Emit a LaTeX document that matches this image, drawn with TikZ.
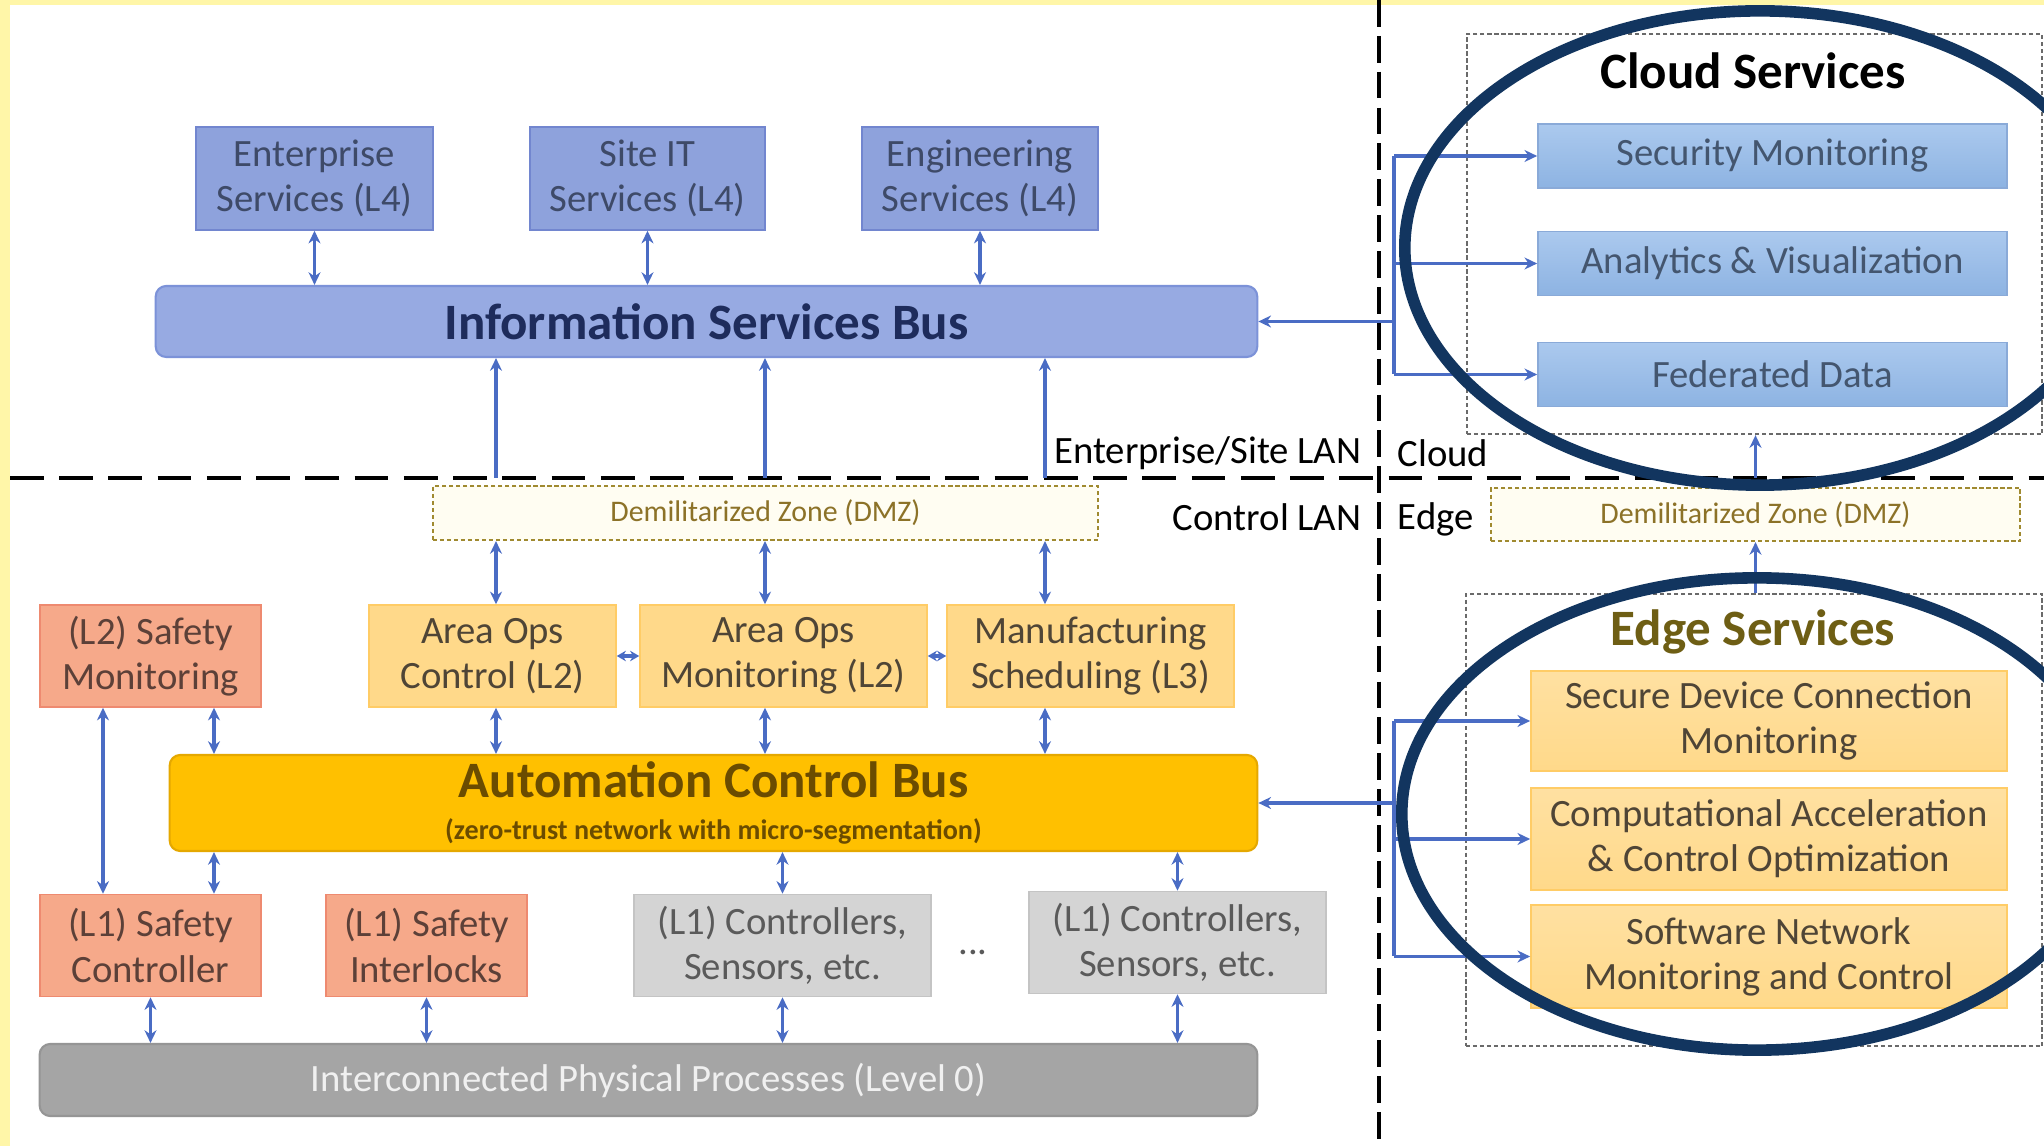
\documentclass[tikz,border=0pt]{standalone}
\usepackage{fontspec}
\setmainfont{Carlito}
\usetikzlibrary{arrows.meta}

\definecolor{band}{HTML}{FFF6A8}
\definecolor{lfourfill}{HTML}{8EA2DC}
\definecolor{lfourline}{HTML}{7286CF}
\definecolor{lfourtext}{HTML}{3E4A68}
\definecolor{isbfill}{HTML}{97AAE2}
\definecolor{isbline}{HTML}{7C92D8}
\definecolor{isbtext}{HTML}{1E2C5C}
\definecolor{cloudtop}{HTML}{ABC9EE}
\definecolor{cloudbot}{HTML}{8DB3E2}
\definecolor{cloudline}{HTML}{8AAAD8}
\definecolor{cloudtext}{HTML}{44566F}
\definecolor{navy}{HTML}{12355F}
\definecolor{opsfill}{HTML}{FFD98A}
\definecolor{opsline}{HTML}{FFCC66}
\definecolor{opstext}{HTML}{4F4536}
\definecolor{safefill}{HTML}{F6A98A}
\definecolor{safeline}{HTML}{EE8A70}
\definecolor{safetext}{HTML}{5C4038}
\definecolor{acbfill}{HTML}{FFC000}
\definecolor{acbline}{HTML}{E5A800}
\definecolor{acbtext}{HTML}{6B4C00}
\definecolor{ctlfill}{HTML}{D4D4D4}
\definecolor{ctlline}{HTML}{C4C4C4}
\definecolor{ctltext}{HTML}{5A5A5A}
\definecolor{physfill}{HTML}{A5A5A5}
\definecolor{physline}{HTML}{959595}
\definecolor{phystext}{HTML}{F0F0F0}
\definecolor{edgetext}{HTML}{6E5E14}
\definecolor{dmzline}{HTML}{A08A30}
\definecolor{dmztext}{HTML}{8C7228}
\definecolor{dmzfill}{HTML}{FFFDF2}
\definecolor{zoneline}{HTML}{6A6A6A}
\definecolor{linkblue}{HTML}{4A6CC4}

\begin{document}
\begin{tikzpicture}[x=0.01cm, y=-0.01cm,
  box/.style={draw, line width=0.4pt, align=center, inner sep=0pt, font=\fontsize{11}{12.8}\selectfont},
  lfourbox/.style={box, fill=lfourfill, draw=lfourline, text=lfourtext, minimum height=1.03cm},
  cloudbox/.style={box, top color=cloudtop, bottom color=cloudbot, draw=cloudline, text=cloudtext, minimum width=4.69cm, minimum height=0.64cm},
  opsbox/.style={box, fill=opsfill, draw=opsline, text=opstext, minimum height=1.02cm},
  safebox/.style={box, fill=safefill, draw=safeline, text=safetext, minimum height=1.02cm},
  ctlbox/.style={box, fill=ctlfill, draw=ctlline, text=ctltext, minimum width=2.97cm, minimum height=1.02cm},
  edgebox/.style={box, top color=opsfill!80!white, bottom color=opsfill, draw=opsline, text=opstext, minimum width=4.76cm},
  bus/.style={draw, line width=0.6pt, rounded corners=3pt, align=center, inner sep=0pt},
  dmzbox/.style={draw=dmzline, fill=dmzfill, text=dmztext, line width=0.6pt, dash pattern=on 1.2pt off 0.8pt, inner sep=0pt, font=\fontsize{8.5}{10}\selectfont},
  zonebox/.style={draw=zoneline, line width=0.6pt, dash pattern=on 1.2pt off 0.8pt, inner sep=0pt},
  titlelbl/.style={inner sep=0pt, font=\fontsize{14.5}{17}\selectfont\bfseries},
  zonelbl/.style={inner sep=0pt, font=\fontsize{11}{13}\selectfont},
  link/.style={draw=linkblue, line width=0.9pt},
  dbl/.style={link, {Stealth[length=3.6pt,width=3.4pt]}-{Stealth[length=3.6pt,width=3.4pt]}},
  upl/.style={link, {Stealth[length=3.6pt,width=3.4pt]}-},
  tol/.style={link, -{Stealth[length=3.6pt,width=3.4pt]}},
  tiny dbl/.style={link, {Stealth[length=2.6pt,width=3pt]}-{Stealth[length=2.6pt,width=3pt]}}]

\def\W{2044}
\def\H{1146}

\path [use as bounding box] (0,0) rectangle (\W,\H);
\clip (0,0) rectangle (\W,\H);

% BACKGROUND
\fill [white] (0,0) rectangle (\W,\H);
\fill [band] (0,0) rectangle (\W,5);
\fill [band] (0,0) rectangle (10,\H);

% ZONES
\coordinate (lanL) at (10,478);
\coordinate (lanR) at (\W,478);
\coordinate (rimT) at (1379,0);
\coordinate (rimB) at (1379,\H);
\draw [line width=1.4pt, dash pattern=on 9.6pt off 4.4pt] (lanL) -- (lanR);
\draw [line width=1.3pt, dash pattern=on 7.6pt off 2.6pt] (rimT) -- (rimB);
\node [zonelbl, anchor=east] (entlan) at (1362,453) {Enterprise/Site LAN};
\node [zonelbl, anchor=east] (ctllan) at (1362,517) {Control LAN};
\node [zonelbl, anchor=west] (cloudlan) at (1397,453) {Cloud};
\node [zonelbl, anchor=west] (edgelan) at (1397,519) {Edge};

% LEVEL 4
\node [lfourbox, minimum width=2.37cm] (ent) at (314.5,178.5) {Enterprise\\Services (L4)};
\node [lfourbox, minimum width=2.35cm] (site) at (647.5,178.5) {Site IT\\Services (L4)};
\node [lfourbox, minimum width=2.36cm] (eng) at (980,178.5) {Engineering\\Services (L4)};
\node [bus, fill=isbfill, draw=isbline, text=isbtext, font=\fontsize{14.5}{17}\selectfont\bfseries,
  minimum width=11.01cm, minimum height=0.71cm] (isb) at (706.5,321.5) {Information Services Bus};

% CLOUD
\node [zonebox, minimum width=5.75cm, minimum height=4cm] (cloud) at (1754.5,234) {};
\node [titlelbl, text=black] (cloudttl) at (1753,71) {Cloud Services};
\node [cloudbox] (secmon) at (1772.5,156) {Security Monitoring};
\node [cloudbox] (anavis) at (1772.5,263.5) {Analytics \& Visualization};
\node [cloudbox] (feddata) at (1772.5,374.5) {Federated Data};

% DMZ
\node [dmzbox, minimum width=6.65cm, minimum height=0.54cm] (dmzl) at (765.5,513) {Demilitarized Zone (DMZ)};
\node [dmzbox, minimum width=5.29cm, minimum height=0.53cm] (dmzr) at (1755.5,514.5) {Demilitarized Zone (DMZ)};

% LEVEL 2/3
\node [safebox, minimum width=2.21cm] (sfm) at (150.5,656) {(L2) Safety\\Monitoring};
\node [opsbox, minimum width=2.47cm] (aoc) at (492.5,656) {Area Ops\\Control (L2)};
\node [opsbox, minimum width=2.87cm] (aom) at (783.5,656) {Area Ops\\Monitoring (L2)};
\node [opsbox, minimum width=2.87cm] (mfg) at (1090.5,656) {Manufacturing\\Scheduling (L3)};
\node [bus, fill=acbfill, draw=acbline, text=acbtext, font=\fontsize{14.5}{12}\selectfont\bfseries,
  minimum width=10.87cm, minimum height=0.96cm] (acb) at (713.5,803)
  {Automation Control Bus\\{\fontsize{8}{9}\selectfont (zero-trust network with micro-segmentation)}};

% LEVEL 1
\node [safebox, minimum width=2.21cm] (sfc) at (150.5,945.5) {(L1) Safety\\Controller};
\node [safebox, minimum width=2.01cm] (sfi) at (426.5,945.5) {(L1) Safety\\Interlocks};
\node [ctlbox] (ctla) at (782.5,945.5) {(L1) Controllers,\\Sensors, etc.};
\node [ctlbox] (ctlb) at (1177.5,942.5) {(L1) Controllers,\\Sensors, etc.};
\node [zonelbl, text=ctltext] (dots) at (973,952) {...};

% LEVEL 0
\node [bus, fill=physfill, draw=physline, text=phystext, font=\fontsize{11}{13}\selectfont,
  minimum width=12.17cm, minimum height=0.72cm] (phys) at (648.5,1080) {Interconnected Physical Processes (Level 0)};

% EDGE
\node [zonebox, minimum width=5.76cm, minimum height=4.52cm] (edge) at (1754,820) {};
\node [titlelbl, text=edgetext] (edgettl) at (1753,632) {Edge Services};
\node [edgebox, minimum height=1cm] (sdc) at (1769,721) {Secure Device Connection\\Monitoring};
\node [edgebox, minimum height=1.02cm] (cao) at (1769,839) {Computational Acceleration\\\& Control Optimization};
\node [edgebox, minimum height=1.03cm] (snm) at (1769,956.5) {Software Network\\Monitoring and Control};

% LINKS
\coordinate (colA) at (496,0);
\coordinate (colB) at (765,0);
\coordinate (colC) at (1045,0);
\coordinate (sfA) at (214,0);
\coordinate (sfB) at (103,0);
\coordinate (cbr) at (1394,321.5);
\coordinate (ebr) at (1394,803);

\foreach \n in {ent,site,eng}
  \draw [dbl] (\n.south) -- (\n.south |- isb.north);
\foreach \c in {colA,colB,colC} {
  \draw [upl] (isb.south -| \c) -- (lanL -| \c);
  \draw [dbl] (dmzl.south -| \c) -- (aoc.north -| \c);
  \draw [dbl] (aoc.south -| \c) -- (acb.north -| \c);
}
\draw [tiny dbl] (aoc.east) -- (aom.west);
\draw [tiny dbl] (aom.east) -- (mfg.west);
\draw [dbl] (sfm.south -| sfA) -- (acb.north -| sfA);
\draw [dbl] (acb.south -| sfA) -- (sfc.north -| sfA);
\draw [dbl] (sfm.south -| sfB) -- (sfc.north -| sfB);
\draw [dbl] (acb.south -| ctla) -- (ctla.north);
\draw [dbl] (acb.south -| ctlb) -- (ctlb.north);
\foreach \n in {sfc,sfi,ctla,ctlb}
  \draw [dbl] (\n.south) -- (\n.south |- phys.north);

\draw [tol] (cbr) -- (isb.east);
\draw [link] (cbr |- secmon) -- (cbr |- feddata);
\foreach \n in {secmon,anavis,feddata}
  \draw [tol] (cbr |- \n) -- (\n.west);
\draw [tol] (ebr) -- (acb.east);
\draw [link] (ebr |- sdc) -- (ebr |- snm);
\foreach \n in {sdc,cao,snm}
  \draw [tol] (ebr |- \n) -- (\n.west);

\draw [upl] (cloud.south -| dmzr) -- (lanL -| dmzr);
\draw [upl] (dmzr.south) -- (edge.north -| dmzr);

% HIGHLIGHTS
\draw [navy, line width=3.3pt] (1760,248) ellipse [x radius=3.55cm, y radius=2.37cm];
\draw [navy, line width=3.3pt] (1757,814) ellipse [x radius=3.55cm, y radius=2.36cm];

\end{tikzpicture}
\end{document}
